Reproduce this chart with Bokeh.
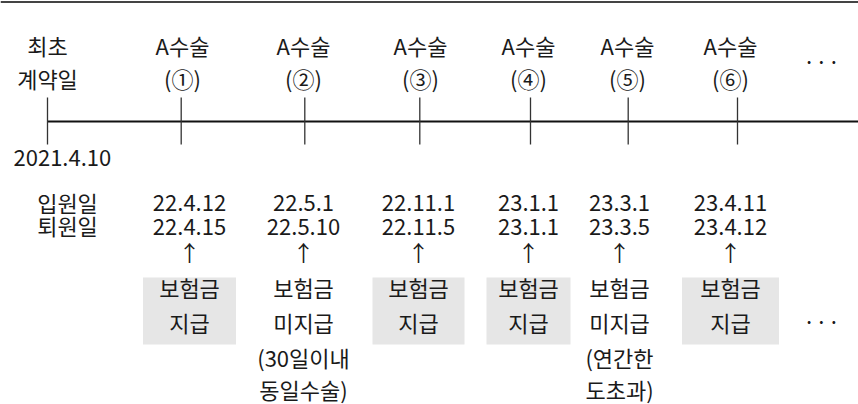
from bokeh.plotting import figure
from bokeh.models import Range1d, ColumnDataSource
from bokeh.core.properties import value
from bokeh.embed import file_html
from bokeh.resources import INLINE

# ---- data ----
start_label = ["최초", "계약일"]
start_date = "2021.4.10"
surgery = ["A수술", "A수술", "A수술", "A수술", "A수술", "A수술"]
surgery_no = ["(①)", "(②)", "(③)", "(④)", "(⑤)", "(⑥)"]
row_labels = ["입원일", "퇴원일"]
admit = ["22.4.12", "22.5.1", "22.11.1", "23.1.1", "23.3.1", "23.4.11"]
discharge = ["22.4.15", "22.5.10", "22.11.5", "23.1.1", "23.3.5", "23.4.12"]
paid = [True, False, True, True, False, True]
result_1 = ["보험금", "보험금", "보험금", "보험금", "보험금", "보험금"]
result_2 = ["지급", "미지급", "지급", "지급", "미지급", "지급"]
note_1 = ["", "(30일이내", "", "", "(연간한", ""]
note_2 = ["", "동일수술)", "", "", "도초과)", ""]

# ---- layout (pixel coordinates) ----
W, H = 858, 404
start_x = 47
tick_x = [180.7, 304.3, 419.3, 530, 627.7, 737]
top_x = [182, 303, 420, 528, 627, 730]
col_x = [189, 303, 418, 528, 619, 730]
box_w = [93, 92, 92, 84, 92, 97]
FONT = value("Noto Sans CJK KR")
FS = "22px"
TXT = "#1a1a1a"
DY = -3  # vertical nudge for text baseline metrics

p = figure(width=W, height=H, output_backend="svg", toolbar_location=None,
           x_range=Range1d(0, W), y_range=Range1d(H, 0), min_border=0)
p.axis.visible = False
p.grid.visible = False
p.outline_line_color = None
p.background_fill_color = "white"

# top border
p.segment(x0=[0], y0=[1.5], x1=[W], y1=[1.5], line_color="#444444", line_width=2)

# timeline
p.segment(x0=[start_x], y0=[121], x1=[W], y1=[121], line_color="#111111", line_width=2)
p.segment(x0=[start_x] + tick_x, y0=[97] * 7, x1=[start_x] + tick_x, y1=[144] * 7,
          line_color="#333333", line_width=1.3)

# boxes for paid
bx = [c for c, pd in zip(col_x, paid) if pd]
bw = [w for w, pd in zip(box_w, paid) if pd]
p.rect(x=bx, y=[310.5] * len(bx), width=bw, height=[67] * len(bx),
       fill_color="#e6e6e6", line_color=None)

def txt(xs, ys, texts, align="center", size=FS):
    src = ColumnDataSource(dict(x=xs, y=[v + DY for v in ys], t=texts))
    p.text(x="x", y="y", text="t", source=src, text_font=FONT, text_font_size=size,
           text_align=align, text_baseline="middle", text_color=TXT)

# start labels
txt([start_x, start_x], [47, 80], start_label)
txt([13], [160], [start_date], align="left")
# top surgery labels
txt(top_x, [47] * 6, surgery)
txt(top_x, [80] * 6, surgery_no)
txt([821], [62], ["···"])

# bottom
txt([67, 67], [204, 227], row_labels)
txt(col_x, [205] * 6, admit)
txt(col_x, [229] * 6, discharge)
txt(col_x, [253] * 6, ["↑"] * 6)
txt(col_x, [289] * 6, result_1)
txt(col_x, [324] * 6, result_2)
txt(col_x, [359] * 6, note_1)
txt(col_x, [391] * 6, note_2)
txt([821], [322], ["···"])

open("out.html", "w").write(file_html(p, INLINE))
